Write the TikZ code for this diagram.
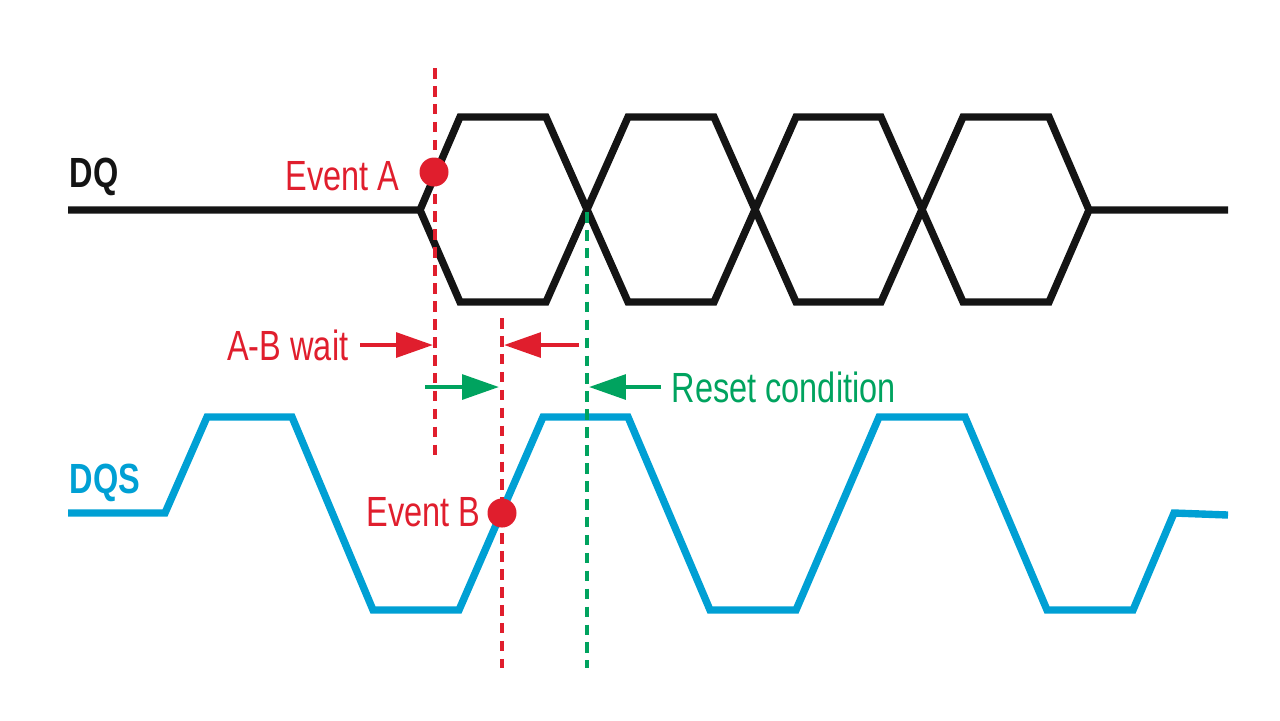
\documentclass[tikz,border=0pt]{standalone}
\usepackage{fontspec}
\setmainfont{Liberation Sans}
\usetikzlibrary{arrows.meta}
\definecolor{ered}{RGB}{224,30,45}
\definecolor{eblue}{RGB}{0,160,212}
\definecolor{egreen}{RGB}{0,163,95}
\definecolor{eblack}{RGB}{20,20,20}
\newcommand{\cond}[1]{\scalebox{0.77}[1]{#1}}
\begin{document}
\begin{tikzpicture}[x=0.01cm,y=-0.01cm,
  wave/.style={line width=2.1pt,line join=miter,miter limit=10},
  vdash/.style={line width=0.95pt,dash pattern=on 3pt off 2.1pt},
  lbl/.style={inner sep=0pt,font=\fontsize{12}{14}\selectfont},
  sig/.style={inner sep=0pt,font=\fontsize{12}{14}\selectfont\bfseries},
  marrow/.style={line width=1.2pt,-{Triangle[length=10.5pt,width=7pt]}},
  evdot/.style={circle,fill=ered,inner sep=0pt,minimum size=0.29cm}]
\useasboundingbox (0,0) rectangle (1280,720);
% DQ waveform
\draw[wave,eblack] (68,210) -- (420,210) -- (460,117) -- (546,117) -- (628,302) -- (714,302) -- (796,117) -- (881,117) -- (963,302) -- (1049,302) -- (1089,210) -- (1228,210);
\draw[wave,eblack] (420,210) -- (460,302) -- (546,302) -- (628,117) -- (714,117) -- (796,302) -- (881,302) -- (963,117) -- (1049,117) -- (1089,210);
% DQS waveform
\draw[wave,eblue] (68,513) -- (165,513) -- (207,417) -- (292,417) -- (373,610) -- (459,610) -- (543,417) -- (628,417) -- (710,610) -- (796,610) -- (879,417) -- (965,417) -- (1047,610) -- (1133,610) -- (1174,513) -- (1228,515);
% dashed markers
\coordinate (aT) at (435,68); \coordinate (aB) at (435,457);
\coordinate (bT) at (502,318); \coordinate (bB) at (502,668);
\coordinate (gT) at (587,212); \coordinate (gB) at (587,668);
\draw[vdash,ered] (aT) -- (aB);
\draw[vdash,ered] (bT) -- (bB);
\draw[vdash,egreen] (gT) -- (gB);
% events
\node[evdot] (evA) at (434,172) {};
\node[evdot] (evB) at (502,513) {};
\node[lbl,text=ered,anchor=east] (lA) at (400,176) {\cond{Event A}};
\node[lbl,text=ered,anchor=east] (lB) at (481,512) {\cond{Event B}};
% signal labels
\node[sig,text=eblack,anchor=west] (dq) at (69,177) {\cond{DQ}};
\node[sig,text=eblue,anchor=west] (dqs) at (69,483) {\cond{DQS}};
% A-B wait arrows
\node[lbl,text=ered,anchor=east] (wait) at (349,345) {\cond{A-B wait}};
\coordinate (r1s) at (360,345); \coordinate (r1e) at (433,345);
\coordinate (r2s) at (579,345); \coordinate (r2e) at (504,345);
\draw[marrow,ered] (r1s) -- (r1e);
\draw[marrow,ered] (r2s) -- (r2e);
% Reset condition arrows
\node[lbl,text=egreen,anchor=west] (reset) at (671,387) {\cond{Reset condition}};
\coordinate (g1s) at (425,387); \coordinate (g1e) at (499,387);
\coordinate (g2s) at (661,387); \coordinate (g2e) at (589,387);
\draw[marrow,egreen] (g1s) -- (g1e);
\draw[marrow,egreen] (g2s) -- (g2e);
\end{tikzpicture}
\end{document}
